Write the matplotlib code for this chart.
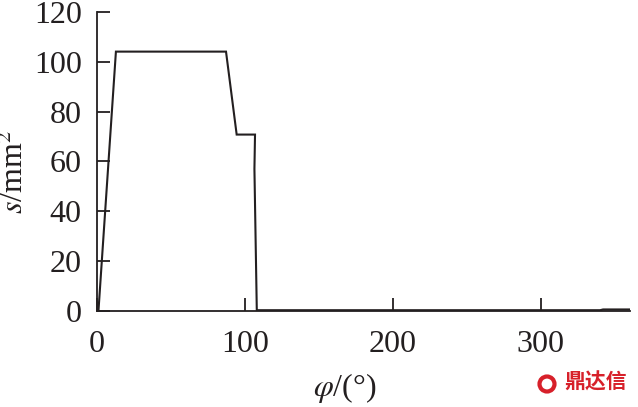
import matplotlib
matplotlib.use("Agg")
import matplotlib.pyplot as plt
from matplotlib.patches import Ellipse

# curve: phi in degrees, s in mm^2
phi = [0, 1, 12.8, 87.2, 94.4, 106.8, 106.4, 108.0, 340, 342, 360]
s = [0, 0, 104.1, 104.1, 70.8, 70.8, 57.0, 0.3, 0.3, 0.6, 0.6]

x_ticks = [0, 100, 200, 300]
y_ticks = [0, 20, 40, 60, 80, 100, 120]

plt.rcParams["font.family"] = ["Liberation Serif", "DejaVu Serif"]
plt.rcParams["mathtext.fontset"] = "stix"

fig = plt.figure(figsize=(6.38, 4.07), dpi=100)
ax = fig.add_axes([0.152, 0.236, 0.835, 0.7345])

ax.plot(phi, s, color="#231f20", lw=1.5, solid_joinstyle="miter")

ax.set_xlim(0, 360)
ax.set_ylim(0, 120)
ax.set_xticks(x_ticks)
ax.set_yticks(y_ticks)

for side in ["top", "right"]:
    ax.spines[side].set_visible(False)
for side in ["left", "bottom"]:
    ax.spines[side].set_linewidth(1.3)
    ax.spines[side].set_color("#231f20")

ax.tick_params(axis="both", direction="in", length=9.5, width=1.3,
               color="#231f20", labelsize=23, labelcolor="#231f20")
ax.tick_params(axis="x", pad=14)
ax.tick_params(axis="y", pad=11)

ax.set_xlabel(r"$\varphi$/(°)", fontsize=23, color="#231f20")
ax.set_ylabel(r"$s$/mm$^2$", fontsize=23, color="#231f20")
ax.xaxis.set_label_coords(0.465, -0.2)
ax.yaxis.set_label_coords(-0.125, 0.465)

# watermark
fig.text(0.983, 0.035, "鼎达信", color="#d7202a", fontsize=15,
         fontweight="bold", ha="right", va="bottom",
         family=["Noto Sans CJK SC", "DejaVu Sans"])
fig.patches.append(Ellipse((547 / 638, 1 - 384 / 407), 15 / 638, 15 / 407,
                           transform=fig.transFigure, facecolor="white",
                           edgecolor="#d7202a", lw=3))

fig.savefig("out.png", dpi=100)
plt.close(fig)
